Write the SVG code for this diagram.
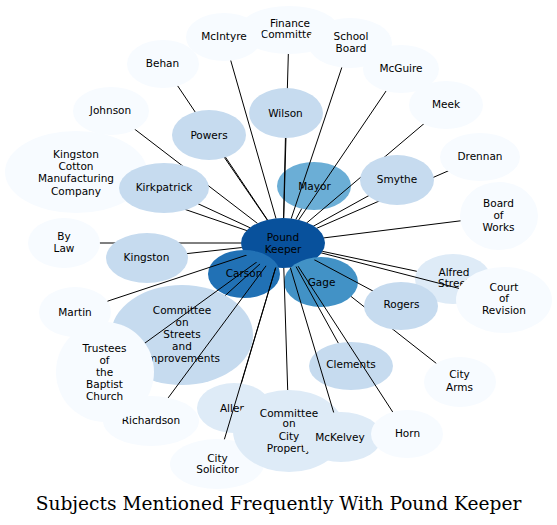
<svg xmlns="http://www.w3.org/2000/svg" width="557" height="525" viewBox="0 0 557 525">
<style>
ellipse{stroke:none}
.c0{fill:#f7fbff}.c1{fill:#deebf7}.c2{fill:#c6dbef}.c4{fill:#6baed6}.c5{fill:#4292c6}.c6{fill:#2171b5}.c7{fill:#08519c}
text{font-family:"DejaVu Sans",sans-serif;font-size:10.5px;text-anchor:middle;fill:#000}
.title{font-family:"DejaVu Serif",serif;font-size:18.6px}
#edges line{stroke:#000;stroke-width:1}
</style>
<defs>
<mask id="pkm" maskUnits="userSpaceOnUse" x="0" y="0" width="557" height="525">
<rect x="0" y="0" width="557" height="525" fill="#fff"/>
<ellipse cx="283" cy="243" rx="42" ry="25" fill="#000"/>
</mask>
</defs>
<g id="n-pound-keeper"><ellipse class="c7" cx="283" cy="243" rx="42" ry="25"/><text x="283" y="240.5">Pound</text><text x="283" y="252.8">Keeper</text></g>
<g id="n-carson"><ellipse class="c6" cx="244" cy="274" rx="36" ry="24"/><text x="244" y="276.5">Carson</text></g>
<g id="n-gage"><ellipse class="c5" cx="321" cy="282" rx="37" ry="25"/><text x="321.5" y="286">Gage</text></g>
<g id="n-mayor"><ellipse class="c4" cx="314" cy="186" rx="37" ry="24"/><text x="314.5" y="189.8">Mayor</text></g>
<g id="n-martin"><ellipse class="c0" cx="75" cy="312" rx="36" ry="25"/><text x="75" y="315.5">Martin</text></g>
<g id="n-committee-streets"><ellipse class="c2" cx="182" cy="335" rx="71" ry="50"/><text x="182" y="313.8">Committee</text><text x="182" y="326">on</text><text x="182" y="337.8">Streets</text><text x="182" y="349.5">and</text><text x="182" y="361.5">Improvements</text></g>
<g id="n-clements"><ellipse class="c2" cx="351" cy="366" rx="42" ry="24"/><text x="351" y="367.8">Clements</text></g>
<g id="n-alfred-street"><ellipse class="c1" cx="453" cy="279" rx="38" ry="25"/><text x="454" y="275.5">Alfred</text><text x="454" y="287.4">Street</text></g>
<g id="n-allen"><ellipse class="c1" cx="234" cy="408" rx="37" ry="25"/><text x="233" y="411.5">Allen</text></g>
<g id="n-city-solicitor"><ellipse class="c0" cx="217" cy="464" rx="47" ry="25"/><text x="217.5" y="461.5">City</text><text x="217.5" y="472.8">Solicitor</text></g>
<g id="n-committee-property"><ellipse class="c1" cx="289" cy="431" rx="56" ry="41"/><text x="289" y="416.5">Committee</text><text x="289" y="427.3">on</text><text x="289" y="439.8">City</text><text x="289" y="451.5">Property</text></g>
<g id="edges" mask="url(#pkm)">
<line x1="283" y1="243" x2="286" y2="113"/>
<line x1="283" y1="243" x2="289" y2="30"/>
<line x1="283" y1="243" x2="224" y2="37"/>
<line x1="283" y1="243" x2="350" y2="43"/>
<line x1="283" y1="243" x2="401" y2="69"/>
<line x1="283" y1="243" x2="446" y2="105"/>
<line x1="283" y1="243" x2="480" y2="157"/>
<line x1="283" y1="243" x2="397" y2="180"/>
<line x1="283" y1="243" x2="499" y2="216"/>
<line x1="283" y1="243" x2="301.7" y2="208.6"/>
<line x1="283" y1="243" x2="163" y2="64"/>
<line x1="283" y1="243" x2="209" y2="135"/>
<line x1="283" y1="243" x2="111" y2="111"/>
<line x1="283" y1="243" x2="76" y2="172"/>
<line x1="283" y1="243" x2="164" y2="188"/>
<line x1="283" y1="243" x2="64" y2="243"/>
<line x1="283" y1="243" x2="147" y2="258"/>
<line x1="283" y1="243" x2="107.5" y2="301.2"/>
<line x1="283" y1="243" x2="225.4" y2="295.4"/>
<line x1="283" y1="243" x2="105" y2="372"/>
<line x1="283" y1="243" x2="151" y2="421"/>
<line x1="283" y1="243" x2="241.3" y2="383.5"/>
<line x1="283" y1="243" x2="224.4" y2="439.3"/>
<line x1="283" y1="243" x2="287.7" y2="390"/>
<line x1="283" y1="243" x2="341" y2="437"/>
<line x1="283" y1="243" x2="407" y2="434"/>
<line x1="283" y1="243" x2="338.3" y2="343.1"/>
<line x1="283" y1="243" x2="401" y2="306"/>
<line x1="351.1" y1="296.5" x2="460" y2="382"/>
<line x1="283" y1="243" x2="416.8" y2="271.3"/>
<line x1="283" y1="243" x2="504" y2="300"/>
</g>
<g id="n-city-arms"><ellipse class="c0" cx="460" cy="382" rx="36" ry="25"/><text x="459.5" y="377.8">City</text><text x="459.5" y="390.5">Arms</text></g>
<g id="n-rogers"><ellipse class="c2" cx="401" cy="306" rx="37" ry="24"/><text x="401.5" y="307.8">Rogers</text></g>
<g id="n-court-revision"><ellipse class="c0" cx="504" cy="300" rx="48" ry="33"/><text x="504" y="290.5">Court</text><text x="504" y="302.2">of</text><text x="504" y="313.8">Revision</text></g>
<g id="n-board-works"><ellipse class="c0" cx="499" cy="216" rx="39" ry="34"/><text x="498.5" y="207.1">Board</text><text x="498.5" y="218.8">of</text><text x="498.5" y="230.5">Works</text></g>
<g id="n-finance"><ellipse class="c0" cx="289" cy="30" rx="50" ry="24"/><text x="290" y="26.5">Finance</text><text x="290" y="38">Committee</text></g>
<g id="n-mcintyre"><ellipse class="c0" cx="224" cy="37" rx="38" ry="24"/><text x="224" y="39.8">McIntyre</text></g>
<g id="n-school-board"><ellipse class="c0" cx="350" cy="43" rx="42" ry="25"/><text x="351" y="39.5">School</text><text x="351" y="51.5">Board</text></g>
<g id="n-mcguire"><ellipse class="c0" cx="401" cy="69" rx="38" ry="24"/><text x="401" y="71.8">McGuire</text></g>
<g id="n-meek"><ellipse class="c0" cx="446" cy="105" rx="37" ry="24"/><text x="446" y="108">Meek</text></g>
<g id="n-drennan"><ellipse class="c0" cx="480" cy="157" rx="40" ry="24"/><text x="480" y="159.5">Drennan</text></g>
<g id="n-smythe"><ellipse class="c2" cx="397" cy="180" rx="37" ry="25"/><text x="397" y="183">Smythe</text></g>
<g id="n-wilson"><ellipse class="c2" cx="286" cy="113" rx="37" ry="25"/><text x="285.5" y="116.5">Wilson</text></g>
<g id="n-behan"><ellipse class="c0" cx="163" cy="64" rx="36" ry="24"/><text x="162.5" y="67">Behan</text></g>
<g id="n-powers"><ellipse class="c2" cx="209" cy="135" rx="37" ry="25"/><text x="209" y="138.5">Powers</text></g>
<g id="n-johnson"><ellipse class="c0" cx="111" cy="111" rx="38" ry="24"/><text x="110.5" y="114">Johnson</text></g>
<g id="n-kingston-cotton"><ellipse class="c0" cx="76" cy="172" rx="71" ry="41"/><text x="76" y="158.1">Kingston</text><text x="76" y="169.8">Cotton</text><text x="76" y="181.8">Manufacturing</text><text x="76" y="194.8">Company</text></g>
<g id="n-kirkpatrick"><ellipse class="c2" cx="164" cy="188" rx="45" ry="25"/><text x="164" y="190.5">Kirkpatrick</text></g>
<g id="n-by-law"><ellipse class="c0" cx="64" cy="243" rx="36" ry="25"/><text x="64" y="239.8">By</text><text x="64" y="252">Law</text></g>
<g id="n-kingston"><ellipse class="c2" cx="147" cy="258" rx="41" ry="25"/><text x="146.5" y="261">Kingston</text></g>
<g id="n-richardson"><ellipse class="c0" cx="151" cy="421" rx="48" ry="25"/><text x="151" y="423.8">Richardson</text></g>
<g id="n-trustees"><ellipse class="c0" cx="105" cy="372" rx="49" ry="50"/><text x="104.5" y="351.8">Trustees</text><text x="104.5" y="363.8">of</text><text x="104.5" y="375.8">the</text><text x="104.5" y="387.8">Baptist</text><text x="104.5" y="399.8">Church</text></g>
<g id="n-mckelvey"><ellipse class="c1" cx="341" cy="437" rx="41" ry="25"/><text x="340" y="440.5">McKelvey</text></g>
<g id="n-horn"><ellipse class="c0" cx="407" cy="434" rx="36" ry="24"/><text x="407.5" y="436.8">Horn</text></g>
<text class="title" x="278.5" y="510">Subjects Mentioned Frequently With Pound Keeper</text>
</svg>
